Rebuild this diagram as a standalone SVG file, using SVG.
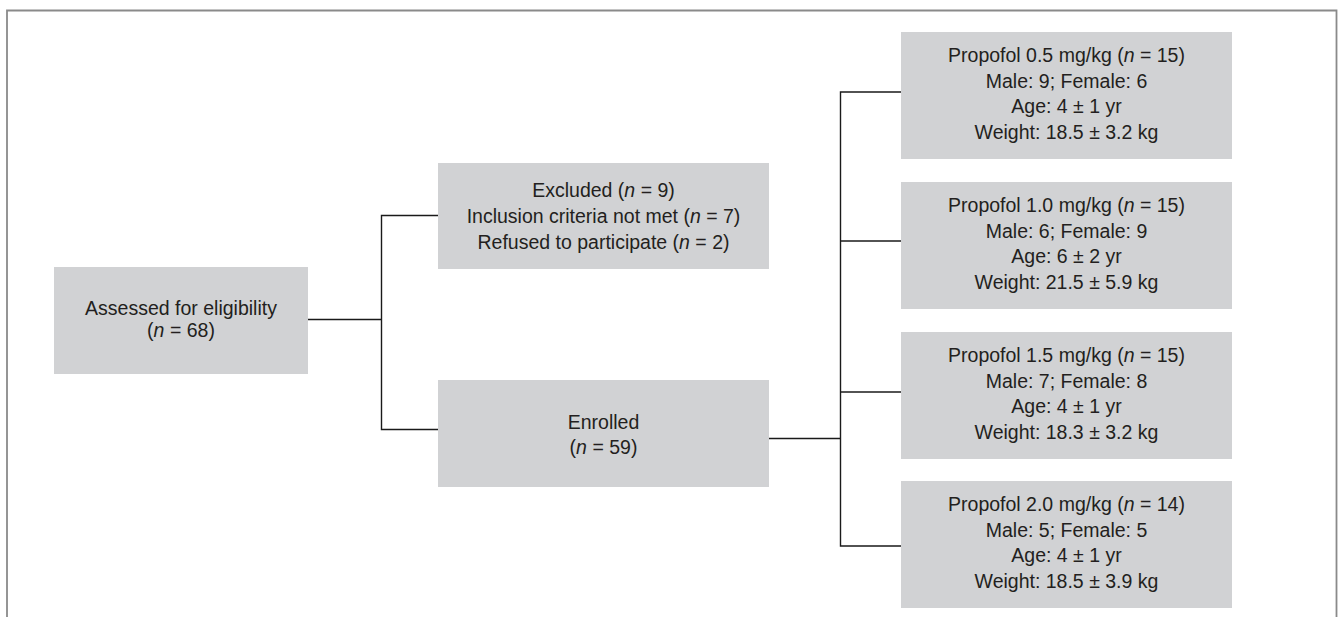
<svg xmlns="http://www.w3.org/2000/svg" width="1338" height="617" viewBox="0 0 1338 617">
<style>
.box{fill:#d1d2d4;}
.t{font-family:"Liberation Sans",Arial,sans-serif;font-size:19.5px;fill:#231f20;text-anchor:middle;}
.i{font-style:italic;}
.c{fill:none;stroke:#1a1a1a;stroke-width:1.4;}
</style>
<rect x="0" y="0" width="1338" height="617" fill="#ffffff"/>
<path d="M7,640 V10.5 H1336.5 V640" fill="none" stroke="#8a8a8a" stroke-width="1.8"/>
<g id="connectors">
<path class="c" d="M308,319.5 H381.5"/>
<path class="c" d="M438,215.5 H381.5 V429.5 H438"/>
<path class="c" d="M769,438.5 H840.5"/>
<path class="c" d="M901,92 H840.5 V546 H901"/>
<path class="c" d="M840.5,241 H901"/>
<path class="c" d="M840.5,392 H901"/>
</g>
<g id="assessed">
<rect class="box" x="54" y="267" width="254" height="107"/>
<text class="t" x="181" y="315">Assessed for eligibility</text>
<text class="t" x="181" y="337">(<tspan class="i">n</tspan> = 68)</text>
</g>
<g id="excluded">
<rect class="box" x="438" y="163" width="331" height="106"/>
<text class="t" x="603.5" y="197">Excluded (<tspan class="i">n</tspan> = 9)</text>
<text class="t" x="603.5" y="222.5">Inclusion criteria not met (<tspan class="i">n</tspan> = 7)</text>
<text class="t" x="603.5" y="248.5">Refused to participate (<tspan class="i">n</tspan> = 2)</text>
</g>
<g id="enrolled">
<rect class="box" x="438" y="380" width="331" height="107"/>
<text class="t" x="603.5" y="428.5">Enrolled</text>
<text class="t" x="603.5" y="454">(<tspan class="i">n</tspan> = 59)</text>
</g>
<g id="propofol05">
<rect class="box" x="901" y="32" width="331" height="127"/>
<text class="t" x="1066.5" y="62">Propofol 0.5 mg/kg (<tspan class="i">n</tspan> = 15)</text>
<text class="t" x="1066.5" y="87.5">Male: 9; Female: 6</text>
<text class="t" x="1066.5" y="113">Age: 4 ± 1 yr</text>
<text class="t" x="1066.5" y="138.5">Weight: 18.5 ± 3.2 kg</text>
</g>
<g id="propofol10">
<rect class="box" x="901" y="182" width="331" height="127"/>
<text class="t" x="1066.5" y="212">Propofol 1.0 mg/kg (<tspan class="i">n</tspan> = 15)</text>
<text class="t" x="1066.5" y="237.5">Male: 6; Female: 9</text>
<text class="t" x="1066.5" y="263">Age: 6 ± 2 yr</text>
<text class="t" x="1066.5" y="288.5">Weight: 21.5 ± 5.9 kg</text>
</g>
<g id="propofol15">
<rect class="box" x="901" y="332" width="331" height="127"/>
<text class="t" x="1066.5" y="362">Propofol 1.5 mg/kg (<tspan class="i">n</tspan> = 15)</text>
<text class="t" x="1066.5" y="387.5">Male: 7; Female: 8</text>
<text class="t" x="1066.5" y="413">Age: 4 ± 1 yr</text>
<text class="t" x="1066.5" y="438.5">Weight: 18.3 ± 3.2 kg</text>
</g>
<g id="propofol20">
<rect class="box" x="901" y="481" width="331" height="127"/>
<text class="t" x="1066.5" y="511">Propofol 2.0 mg/kg (<tspan class="i">n</tspan> = 14)</text>
<text class="t" x="1066.5" y="536.5">Male: 5; Female: 5</text>
<text class="t" x="1066.5" y="562">Age: 4 ± 1 yr</text>
<text class="t" x="1066.5" y="587.5">Weight: 18.5 ± 3.9 kg</text>
</g>
</svg>
